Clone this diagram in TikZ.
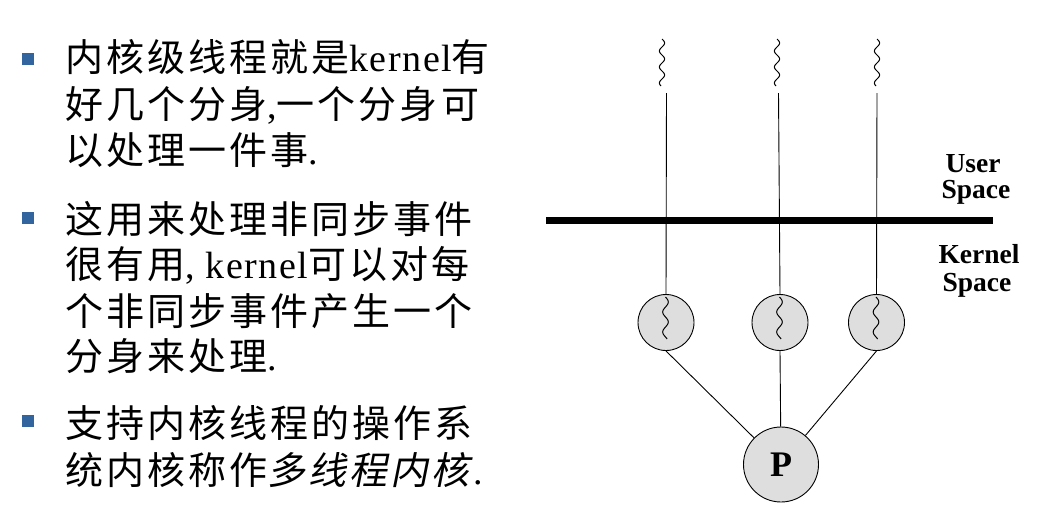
\documentclass[tikz,border=0pt]{standalone}
\usepackage{fontspec}
\setmainfont{Liberation Serif}
\newfontfamily\cjk[LetterSpace=8]{Noto Sans CJK SC}
\newfontfamily\cjkit[LetterSpace=8,FakeSlant=0.2]{Noto Sans CJK SC}
\newfontfamily\lat[LetterSpace=4]{Liberation Serif}
\definecolor{bulletblue}{RGB}{50,100,158}
\definecolor{thrfill}{RGB}{222,222,222}
\begin{document}
\begin{tikzpicture}[x=1pt,y=-1pt,
  txt/.style={anchor=base west,inner sep=0pt,font=\fontsize{38}{40}\selectfont},
  bulletsq/.style={fill=bulletblue,draw=none,minimum size=12pt,inner sep=0pt},
  thr/.style={circle,draw=black,line width=0.9pt,fill=thrfill,minimum size=56pt,inner sep=0pt},
  proc/.style={circle,draw=black,line width=0.9pt,fill=thrfill,minimum size=75pt,inner sep=0pt,font=\fontsize{36}{36}\selectfont\bfseries},
  lbl/.style={anchor=base,inner sep=0pt,font=\fontsize{27.5}{27.5}\selectfont\bfseries},
  link/.style={line width=0.9pt},
  squig/.style={line width=1pt}]
\useasboundingbox (0,0) rectangle (1044,528);
% bullets
\node[bulletsq] (b1) at (27.5,58.5) {};
\node[bulletsq] (b2) at (27.5,217.5) {};
\node[bulletsq] (b3) at (27.5,420.5) {};
% text lines
\node[txt] (l11) at (65,71) {\cjk 内核级线程就是\lat kernel\cjk 有};
\node[txt] (l12) at (65,118) {\cjk 好几个分身\lat ,\cjk 一个分身可};
\node[txt] (l13) at (65,164) {\cjk 以处理一件事\lat .};
\node[txt] (l21) at (65,233) {\cjk 这用来处理非同步事件};
\node[txt] (l22) at (65,278) {\cjk 很有用\lat , kernel\cjk 可以对每};
\node[txt] (l23) at (65,325) {\cjk 个非同步事件产生一个};
\node[txt] (l24) at (65,370) {\cjk 分身来处理\lat .};
\node[txt] (l31) at (65,437) {\cjk 支持内核线程的操作系};
\node[txt] (l32) at (65,484) {\cjk 统内核称作\cjkit 多线程内核\kern4pt\lat .};
% boundary line
\coordinate (bl) at (546,220.5);
\coordinate (br) at (993,220.5);
\draw[line width=7pt] (bl) -- (br);
% labels
\node[lbl] (us1) at (973,172) {User};
\node[lbl] (us2) at (976,198) {Space};
\node[lbl] (ks1) at (979,263) {Kernel};
\node[lbl] (ks2) at (977,291) {Space};
% kernel threads
\node[thr] (t1) at (666,322.5) {};
\node[thr] (t2) at (780,322.5) {};
\node[thr] (t3) at (876.5,322.5) {};
\node[proc] (p) at (781,464.5) {P};
% user thread tops
\coordinate (u1) at (666.5,93);
\coordinate (u2) at (778.5,93);
\coordinate (u3) at (877,93);
\draw[link] (u1) -- (t1.north);
\draw[link] (u2) -- (t2.north);
\draw[link] (u3) -- (t3.north);
% links to process
\draw[link] (t1.south) -- (p);
\draw[link] (t2.south) -- (p);
\draw[link] (t3.south) -- (p);
% squiggles above
\foreach \xc in {662,777,877}{
  \draw[squig,line join=round] plot[domain=0:47,samples=48] ({\xc+2.6*sin(\x*22.5)},{39+\x});
}
% squiggles inside circles
\foreach \xc in {665.5,779.5,876}{
  \draw[squig,line join=round] plot[domain=0:42,samples=43] ({\xc+2.8*sin(\x*18)},{297+\x});
}
\end{tikzpicture}
\end{document}
